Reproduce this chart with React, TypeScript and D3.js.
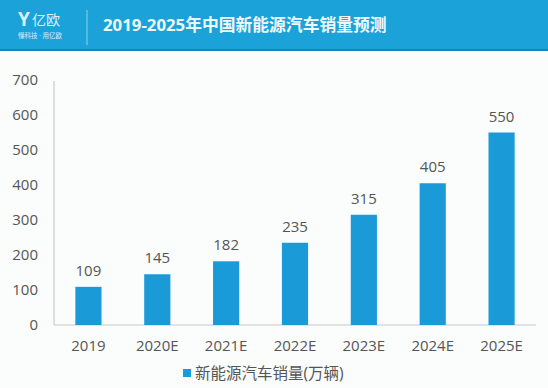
import { useEffect, useRef } from 'react';
import * as d3 from 'd3';

const years = ['2019', '2020E', '2021E', '2022E', '2023E', '2024E', '2025E'];
const sales = [109, 145, 182, 235, 315, 405, 550];
const yTicks = [0, 100, 200, 300, 400, 500, 600, 700];
const title = '2019-2025年中国新能源汽车销量预测';
const seriesName = '新能源汽车销量(万辆)';

const W = 548;
const H = 388;
const font = '"Open Sans", "Noto Sans CJK SC", sans-serif';

export default function App() {
  const svgRef = useRef<SVGSVGElement>(null);

  useEffect(() => {
    if (!svgRef.current) return;
    const svg = d3.select(svgRef.current);
    svg.selectAll('*').remove();

    svg.append('rect').attr('width', W).attr('height', H).attr('fill', '#fbfcfc');

    // header band
    svg.append('rect').attr('width', W).attr('height', 49).attr('fill', '#1ba2d8');
    svg.append('rect').attr('y', 49).attr('width', W).attr('height', 2).attr('fill', '#1687b3');

    // logo
    const logo = svg.append('g').attr('fill', '#d8f1fb');
    logo.append('text')
      .attr('x', 18).attr('y', 26)
      .attr('font-family', font).attr('font-weight', 700).attr('font-size', 19)
      .text('Y');
    logo.append('text')
      .attr('x', 32).attr('y', 25)
      .attr('font-family', font).attr('font-size', 14)
      .text('亿欧');
    logo.append('text')
      .attr('x', 18).attr('y', 38)
      .attr('font-family', font).attr('font-size', 6.5)
      .text('懂科技 · 用亿欧');
    svg.append('line')
      .attr('x1', 87).attr('x2', 87).attr('y1', 10).attr('y2', 45)
      .attr('stroke', '#8fd0ea').attr('stroke-width', 1);

    svg.append('text')
      .attr('x', 103).attr('y', 31)
      .attr('font-family', font).attr('font-weight', 700).attr('font-size', 16.8)
      .attr('fill', '#eef9fd')
      .text(title);

    // chart
    const left = 54;
    const right = 536;
    const top = 80;
    const bottom = 325;

    const x = d3.scaleBand().domain(years).range([left, right]).paddingInner(0.62).paddingOuter(0.31);
    const y = d3.scaleLinear().domain([0, 700]).range([bottom, top]);

    svg.append('line')
      .attr('x1', left).attr('x2', left).attr('y1', top + 1).attr('y2', bottom)
      .attr('stroke', '#c8c8c8').attr('stroke-width', 1.2);
    svg.append('line')
      .attr('x1', left).attr('x2', right).attr('y1', bottom).attr('y2', bottom)
      .attr('stroke', '#c8c8c8').attr('stroke-width', 1.2);

    svg.append('g')
      .selectAll('text')
      .data(yTicks)
      .join('text')
      .attr('x', 38)
      .attr('y', (d) => y(d))
      .attr('dy', '0.35em')
      .attr('text-anchor', 'end')
      .attr('font-family', font).attr('font-size', 15)
      .attr('fill', '#555')
      .text((d) => d);

    svg.append('g')
      .selectAll('rect')
      .data(sales)
      .join('rect')
      .attr('x', (_, i) => x(years[i])!)
      .attr('width', x.bandwidth())
      .attr('y', (d) => y(d))
      .attr('height', (d) => bottom - y(d))
      .attr('fill', '#1a9bd7');

    svg.append('g')
      .selectAll('text')
      .data(sales)
      .join('text')
      .attr('x', (_, i) => x(years[i])! + x.bandwidth() / 2)
      .attr('y', (d) => y(d) - 11)
      .attr('text-anchor', 'middle')
      .attr('font-family', font).attr('font-size', 15)
      .attr('fill', '#555')
      .text((d) => d);

    svg.append('g')
      .selectAll('text')
      .data(years)
      .join('text')
      .attr('x', (d) => x(d)! + x.bandwidth() / 2)
      .attr('y', 351)
      .attr('text-anchor', 'middle')
      .attr('font-family', font).attr('font-size', 15)
      .attr('fill', '#555')
      .text((d) => d);

    // legend
    svg.append('rect')
      .attr('x', 183).attr('y', 369).attr('width', 8).attr('height', 8)
      .attr('fill', '#1a9bd7');
    svg.append('text')
      .attr('x', 195).attr('y', 378.5)
      .attr('font-family', font).attr('font-size', 15.5)
      .attr('fill', '#555')
      .text(seriesName);
  }, []);

  return (
    <div style={{ position: 'absolute', left: 0, top: 0 }}>
      <svg ref={svgRef} width={W} height={H} style={{ display: 'block' }} />
    </div>
  );
}
